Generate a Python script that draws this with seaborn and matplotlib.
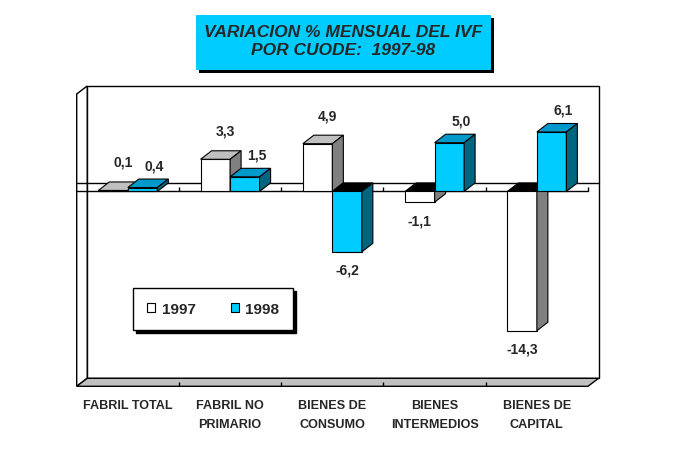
import numpy as np
import pandas as pd
import matplotlib
matplotlib.use("Agg")
import matplotlib.pyplot as plt
from matplotlib.patches import Polygon, Rectangle, Patch
import seaborn as sns

# chart values
categories = ["FABRIL TOTAL", "FABRIL NO\nPRIMARIO", "BIENES DE\nCONSUMO",
              "BIENES\nINTERMEDIOS", "BIENES DE\nCAPITAL"]
years = ["1997", "1998"]
var_1997 = [0.1, 3.3, 4.9, -1.1, -14.3]
var_1998 = [0.4, 1.5, -6.2, 5.0, 6.1]
y_min, y_max = -20, 10

# Excel-ish 3D face colours per series
front_col = {"1997": "#FFFFFF", "1998": "#00CCFF"}
top_col = {"1997": "#C0C0C0", "1998": "#0099CC"}
side_col = {"1997": "#808080", "1998": "#006680"}

df = pd.DataFrame({
    "cat": categories * 2,
    "year": [years[0]] * len(categories) + [years[1]] * len(categories),
    "val": var_1997 + var_1998,
})

sns.set_style("white")
plt.rcParams["font.family"] = ["Liberation Sans", "DejaVu Sans"]

W, H = 674, 456
fig = plt.figure(figsize=(W / 100, H / 100), dpi=100)
# axes = front plane of the 3D box
ax = fig.add_axes([76.7 / W, 1 - 387.3 / H, (588 - 76.7) / W, (387.3 - 95) / H])
ax.patch.set_visible(False)

sns.barplot(data=df, x="cat", y="val", hue="year", palette=front_col, saturation=1,
            width=0.577, edgecolor="black", linewidth=0.8, errorbar=None,
            legend=False, ax=ax)
bars = sorted(ax.patches, key=lambda p: p.get_x())
ax.set_xlim(-0.5, 4.5)
ax.set_ylim(y_min, y_max)

inv = ax.transData.inverted()


def depth(dx, dy):
    """pixel offset -> data offset"""
    a = inv.transform([(0, 0), (dx, dy)])
    return a[1] - a[0]


wdx, wdy = depth(10.5, 8)
bdx, bdy = depth(11, 8.5)
x_lo, x_hi = -0.5, 4.5
line_kw = dict(edgecolor="black", linewidth=1, clip_on=False)

# walls and floor
ax.add_patch(Rectangle((x_lo + wdx, y_min + wdy), x_hi - x_lo, y_max - y_min,
                       facecolor="white", zorder=1, **line_kw))
ax.add_patch(Polygon([(x_lo, y_min), (x_lo, y_max), (x_lo + wdx, y_max + wdy),
                      (x_lo + wdx, y_min + wdy)], facecolor="white", zorder=1.1, **line_kw))
ax.add_patch(Polygon([(x_lo, y_min), (x_hi, y_min), (x_hi + wdx, y_min + wdy),
                      (x_lo + wdx, y_min + wdy)], facecolor="#C0C0C0", zorder=1.2, **line_kw))
bounds = np.arange(len(categories) + 1) - 0.5
ax.vlines(bounds[1:-1], y_min, y_min + 0.45, color="black", lw=1, zorder=1.3, clip_on=False)

# zero plane
ax.plot([x_lo, x_hi], [0, 0], color="black", lw=1, zorder=1.4, clip_on=False)
ax.plot([x_lo, x_hi + wdx], [wdy, wdy], color="black", lw=1, zorder=1.4, clip_on=False)
ax.vlines(bounds[1:], 0, 0.5, color="black", lw=1, zorder=1.4, clip_on=False)

# 3D faces on the seaborn bars
label_off = {"1997": (10, 20), "1998": (12, 14)}
z = 5
for p in bars:
    x0 = p.get_x()
    x1 = x0 + p.get_width()
    xc = x0 + p.get_width() / 2
    yr = years[0] if xc < round(xc) else years[1]
    v = p.get_height()
    yt, yb = max(v, 0), min(v, 0)
    p.set_zorder(z)
    ax.add_patch(Polygon([(x0, yt), (x1, yt), (x1 + bdx, yt + bdy), (x0 + bdx, yt + bdy)],
                         facecolor=top_col[yr] if v >= 0 else "black",
                         edgecolor="black", linewidth=0.8, zorder=z, clip_on=False))
    ax.add_patch(Polygon([(x1, yb), (x1, yt), (x1 + bdx, yt + bdy), (x1 + bdx, yb + bdy)],
                         facecolor=side_col[yr], edgecolor="black", linewidth=0.8,
                         zorder=z, clip_on=False))
    txt = f"{v:.1f}".replace(".", ",")
    if v >= 0:
        ox, oy = label_off[yr]
        ax.annotate(txt, (xc, yt + bdy), xytext=(ox * 0.72, oy * 0.72),
                    textcoords="offset points", ha="center", va="center",
                    fontsize=10, fontweight="bold", zorder=30)
    else:
        ax.annotate(txt, (xc, yb), xytext=(0, -18 * 0.72),
                    textcoords="offset points", ha="center", va="center",
                    fontsize=10, fontweight="bold", zorder=30)
    z += 1

ax.set_xticks(range(len(categories)))
ax.set_xticklabels(categories, fontsize=9.1, fontweight="bold", linespacing=1.75)
ax.tick_params(axis="x", length=0, pad=9)
ax.set_yticks([])
ax.set_xlabel("")
ax.set_ylabel("")
sns.despine(ax=ax, left=True, bottom=True)

# legend with drop shadow
handles = [Patch(facecolor=front_col[y], edgecolor="black", linewidth=0.8, label=y)
           for y in years]
leg = fig.legend(handles=handles, loc="upper left",
                 bbox_to_anchor=(133.3 / W, 1 - 289.3 / H), ncol=2, fontsize=11,
                 frameon=True, fancybox=False, edgecolor="black", framealpha=1,
                 shadow={"ox": 2.2, "oy": -2.2, "color": "black", "alpha": 1},
                 handlelength=0.55, handleheight=0.55, handletextpad=0.4,
                 columnspacing=2.3, borderpad=0.9, borderaxespad=0)
leg.get_frame().set_linewidth(1)
for t in leg.get_texts():
    t.set_fontweight("bold")

# title box with shadow
bw, bh = (491 - 196) / W, (71 - 16) / H
fig.patches.append(Rectangle((199 / W, 1 - 74 / H), bw, bh, transform=fig.transFigure,
                             facecolor="black", edgecolor="none"))
fig.patches.append(Rectangle((196 / W, 1 - 71 / H), bw, bh, transform=fig.transFigure,
                             facecolor="#00CCFF", edgecolor="none"))
fig.text(343.5 / W, 1 - 41.5 / H, "VARIACION % MENSUAL DEL IVF\nPOR CUODE:  1997-98",
         ha="center", va="center", fontsize=12.5, fontweight="bold", style="italic",
         linespacing=1.32)

fig.savefig("out.png", dpi=100)
